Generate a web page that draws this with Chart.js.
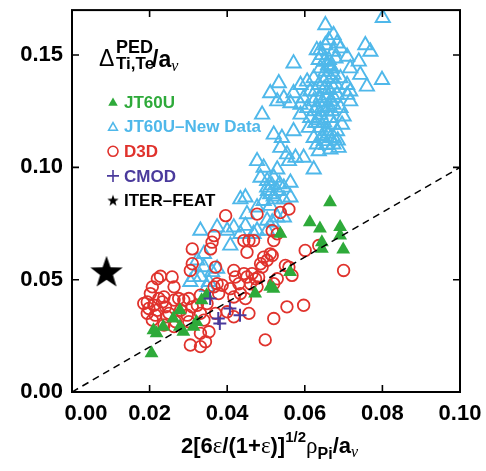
<!DOCTYPE html>
<html>
<head>
<meta charset="utf-8">
<script src="https://cdn.jsdelivr.net/npm/chart.js@4.4.1/dist/chart.umd.min.js"></script>
<style>
  html, body { margin: 0; padding: 0; background: #fff; }
  canvas { display: block; }
</style>
</head>
<body>
<canvas id="grafico" width="486" height="471"></canvas>
<script>
// ---- datos: [x, y] ----
const jt60u = [
  [0.0205,0.0172],[0.0218,0.0261],[0.0210,0.0275],[0.0235,0.0290],[0.0261,0.0327],
  [0.0278,0.0364],[0.0278,0.0290],[0.0287,0.0268],[0.0313,0.0290],[0.0321,0.0312],
  [0.0334,0.0408],[0.0347,0.0431],[0.0472,0.0438],[0.0519,0.0460],[0.0511,0.0468],
  [0.0562,0.0534],[0.0537,0.0704],[0.0613,0.0756],[0.0639,0.0728],[0.0644,0.0667],
  [0.0644,0.0638],[0.0665,0.0845],[0.0691,0.0734],[0.0691,0.0697],[0.0699,0.0634]
];

const jt60uNuevos = [
  [0.0801,0.1665],[0.0653,0.1633],[0.0674,0.1589],[0.0662,0.1566],[0.0653,0.1544],
  [0.0640,0.1522],[0.0683,0.1552],[0.0692,0.1530],[0.0674,0.1515],[0.0709,0.1493],
  [0.0756,0.1544],[0.0769,0.1515],[0.0739,0.1471],[0.0717,0.1441],[0.0743,0.1412],
  [0.0760,0.1360],[0.0799,0.1389],[0.0571,0.1463],[0.0533,0.1375],[0.0511,0.1330],
  [0.0529,0.1294],[0.0546,0.1308],[0.0563,0.1286],[0.0589,0.1279],[0.0571,0.1330],
  [0.0589,0.1367],[0.0606,0.1382],[0.0623,0.1397],[0.0636,0.1367],[0.0649,0.1382],
  [0.0674,0.1412],[0.0692,0.1397],[0.0709,0.1367],[0.0717,0.1338],[0.0683,0.1323],
  [0.0666,0.1294],[0.0640,0.1308],[0.0623,0.1294],[0.0606,0.1264],[0.0589,0.1235],
  [0.0614,0.1220],[0.0627,0.1198],[0.0640,0.1235],[0.0657,0.1249],[0.0674,0.1279],
  [0.0692,0.1264],[0.0700,0.1227],[0.0696,0.1190],[0.0683,0.1161],[0.0666,0.1131],
  [0.0657,0.1161],[0.0674,0.1102],[0.0649,0.1117],[0.0631,0.1102],[0.0623,0.1131],
  [0.0636,0.1072],[0.0687,0.1087],[0.0666,0.1080],[0.0490,0.1235],[0.0520,0.1146],
  [0.0541,0.1131],[0.0571,0.1161],[0.0537,0.1087],[0.0554,0.1058],[0.0576,0.1043],
  [0.0559,0.1028],[0.0597,0.1043],[0.0623,0.0991],[0.0477,0.1028],[0.0494,0.0999],
  [0.0529,0.0991],[0.0520,0.0954],[0.0503,0.0940],[0.0486,0.0954],[0.0503,0.0910],
  [0.0511,0.0881],[0.0529,0.0895],[0.0546,0.0910],[0.0563,0.0932],[0.0524,0.0858],
  [0.0546,0.0858],[0.0563,0.0866],[0.0494,0.0851],[0.0447,0.0866],[0.0434,0.0858],
  [0.0477,0.0822],[0.0451,0.0792],[0.0511,0.0829],[0.0529,0.0777],[0.0503,0.0763],
  [0.0417,0.0733],[0.0400,0.0718],[0.0374,0.0733],[0.0331,0.0718],[0.0434,0.0704],
  [0.0477,0.0718],[0.0503,0.0718],[0.0408,0.0652],[0.0340,0.0615],[0.0323,0.0586],
  [0.0340,0.0556],[0.0314,0.0512],[0.0305,0.0490],[0.0331,0.0512],[0.0361,0.0534],
  [0.0374,0.0549],[0.0353,0.0490],[0.0348,0.0468],[0.0447,0.0740],[0.0468,0.0704],
  [0.0516,0.0755],[0.0546,0.0777],[0.0631,0.1522],[0.0644,0.1500],[0.0636,0.1478],
  [0.0662,0.1478],[0.0640,0.1441],[0.0666,0.1448],[0.0679,0.1485],[0.0653,0.1426],
  [0.0627,0.1338],[0.0614,0.1338],[0.0597,0.1308],[0.0674,0.1353],[0.0662,0.1345],
  [0.0644,0.1264],[0.0631,0.1264],[0.0709,0.1323],[0.0717,0.1294],[0.0666,0.1220],
  [0.0610,0.1176],[0.0640,0.1176],[0.0674,0.1190],[0.0650,0.1470],[0.0660,0.1455],
  [0.0670,0.1440],[0.0655,0.1400],[0.0668,0.1395],[0.0680,0.1370],[0.0650,0.1350],
  [0.0660,0.1320],[0.0675,0.1310],[0.0645,0.1290],[0.0658,0.1270],[0.0670,0.1250],
  [0.0625,0.1250],[0.0635,0.1210],[0.0650,0.1200],[0.0660,0.1150],[0.0645,0.1140],
  [0.0675,0.1130],[0.0655,0.1100],[0.0685,0.1120],[0.0515,0.0920],[0.0505,0.0895],
  [0.0535,0.0925],[0.0520,0.0870]
];

const d3d = [
  [0.0194,0.0401],[0.0202,0.0438],[0.0207,0.0468],[0.0220,0.0504],[0.0228,0.0515],
  [0.0211,0.0386],[0.0194,0.0350],[0.0207,0.0320],[0.0220,0.0364],[0.0233,0.0401],
  [0.0241,0.0379],[0.0245,0.0335],[0.0224,0.0416],[0.0237,0.0423],[0.0258,0.0512],
  [0.0263,0.0468],[0.0198,0.0372],[0.0215,0.0342],[0.0185,0.0394],[0.0250,0.0350],
  [0.0263,0.0409],[0.0275,0.0416],[0.0288,0.0409],[0.0301,0.0416],[0.0310,0.0379],
  [0.0280,0.0364],[0.0297,0.0342],[0.0267,0.0313],[0.0237,0.0298],[0.0263,0.0291],
  [0.0301,0.0313],[0.0323,0.0386],[0.0331,0.0350],[0.0340,0.0320],[0.0305,0.0209],
  [0.0331,0.0202],[0.0344,0.0224],[0.0353,0.0268],[0.0331,0.0261],[0.0305,0.0541],
  [0.0310,0.0571],[0.0310,0.0637],[0.0357,0.0637],[0.0366,0.0696],[0.0361,0.0667],
  [0.0396,0.0785],[0.0370,0.0556],[0.0374,0.0482],[0.0378,0.0438],[0.0387,0.0475],
  [0.0408,0.0460],[0.0417,0.0541],[0.0421,0.0512],[0.0430,0.0482],[0.0434,0.0438],
  [0.0417,0.0423],[0.0447,0.0416],[0.0456,0.0350],[0.0443,0.0527],[0.0451,0.0512],
  [0.0464,0.0527],[0.0473,0.0504],[0.0481,0.0512],[0.0486,0.0571],[0.0494,0.0600],
  [0.0490,0.0556],[0.0503,0.0586],[0.0511,0.0615],[0.0443,0.0674],[0.0456,0.0674],
  [0.0468,0.0674],[0.0451,0.0622],[0.0477,0.0792],[0.0516,0.0718],[0.0520,0.0674],
  [0.0529,0.0704],[0.0537,0.0799],[0.0559,0.0814],[0.0516,0.0608],[0.0529,0.0504],
  [0.0520,0.0482],[0.0550,0.0563],[0.0559,0.0556],[0.0567,0.0519],[0.0554,0.0379],
  [0.0597,0.0386],[0.0520,0.0327],[0.0498,0.0232],[0.0601,0.0630],[0.0636,0.0652],
  [0.0700,0.0541],[0.0460,0.0482],[0.0477,0.0468],[0.0417,0.0335],[0.0400,0.0357],
  [0.0370,0.0350],[0.0366,0.0468],[0.0348,0.0394],[0.0331,0.0431]
];

const cmod = [
  [0.0356,0.0416],[0.0377,0.0327],[0.0381,0.0305],[0.0407,0.0372],[0.0433,0.0342]
];

const iterFeat = [[0.0089,0.0534]];

const lineaX = [0, 0.1];
const lineaY = [0, 0.1];

const xTicks = [0, 0.02, 0.04, 0.06, 0.08, 0.10];
const xTickLabels = ['0.00', '0.02', '0.04', '0.06', '0.08', '0.10'];
const yTicks = [0, 0.05, 0.10, 0.15];
const yTickLabels = ['0.00', '0.05', '0.10', '0.15'];

const nombres = ['JT60U', 'JT60U\u2013New Data', 'D3D', 'CMOD', 'ITER\u2013FEAT'];

// ---- estilos ----
const verde = '#2eaa3a';
const celeste = '#4fb8ea';
const rojo = '#e0322c';
const morado = '#4a3a9c';
const fuente = '"Liberation Sans", Arial, sans-serif';

function aPuntos(lista) {
  return lista.map(p => ({ x: p[0], y: p[1] }));
}

function hacerEstrella(r) {
  const c = document.createElement('canvas');
  const s = Math.ceil(r * 2 + 2);
  c.width = s;
  c.height = s;
  const g = c.getContext('2d');
  g.beginPath();
  for (let i = 0; i < 10; i++) {
    const rr = i % 2 ? r * 0.4 : r;
    const a = -Math.PI / 2 + i * Math.PI / 5;
    g.lineTo(s / 2 + rr * Math.cos(a), s / 2 + rr * Math.sin(a) + r * 0.05);
  }
  g.closePath();
  g.fillStyle = '#000';
  g.fill();
  return c;
}

const estrellaGrande = hacerEstrella(17);
const estrellaChica = hacerEstrella(6);

function marcador(ctx, tipo, x, y) {
  ctx.save();
  ctx.lineWidth = 1.6;
  ctx.beginPath();
  if (tipo === 'trianguloLleno' || tipo === 'trianguloVacio') {
    const r = tipo === 'trianguloLleno' ? 5.5 : 5;
    for (let i = 0; i < 3; i++) {
      const a = -Math.PI / 2 + i * 2 * Math.PI / 3;
      ctx.lineTo(x + r * Math.cos(a), y + 1 + r * Math.sin(a));
    }
    ctx.closePath();
    if (tipo === 'trianguloLleno') { ctx.fillStyle = verde; ctx.fill(); }
    else { ctx.strokeStyle = celeste; ctx.stroke(); }
  } else if (tipo === 'circulo') {
    ctx.arc(x, y, 5, 0, Math.PI * 2);
    ctx.strokeStyle = rojo;
    ctx.stroke();
  } else if (tipo === 'cruz') {
    ctx.moveTo(x - 6, y); ctx.lineTo(x + 6, y);
    ctx.moveTo(x, y - 6); ctx.lineTo(x, y + 6);
    ctx.strokeStyle = morado;
    ctx.stroke();
  } else {
    ctx.drawImage(estrellaChica, x - estrellaChica.width / 2, y - estrellaChica.height / 2);
  }
  ctx.restore();
}

function texto(ctx, s, x, y, font, dibujar) {
  ctx.font = font;
  if (dibujar) ctx.fillText(s, x, y);
  return x + ctx.measureText(s).width;
}

const decoracion = {
  id: 'decoracion',
  afterDraw(chart) {
    const { ctx, chartArea: a, scales: { x, y } } = chart;
    ctx.save();

    // marco y marcas hacia adentro
    ctx.strokeStyle = '#000';
    ctx.lineWidth = 2;
    ctx.strokeRect(a.left, a.top, a.right - a.left, a.bottom - a.top);
    ctx.lineWidth = 1.6;
    ctx.beginPath();
    xTicks.slice(1, -1).forEach(v => {
      const px = x.getPixelForValue(v);
      ctx.moveTo(px, a.bottom); ctx.lineTo(px, a.bottom - 7);
      ctx.moveTo(px, a.top); ctx.lineTo(px, a.top + 7);
    });
    yTicks.slice(1).forEach(v => {
      const py = y.getPixelForValue(v);
      ctx.moveTo(a.left, py); ctx.lineTo(a.left + 7, py);
      ctx.moveTo(a.right, py); ctx.lineTo(a.right - 7, py);
    });
    ctx.stroke();

    // etiquetas del eje x
    ctx.fillStyle = '#000';
    ctx.font = 'bold 22px ' + fuente;
    ctx.textAlign = 'center';
    ctx.textBaseline = 'alphabetic';
    xTicks.forEach((v, i) => {
      let px = x.getPixelForValue(v);
      if (i === 0) px += 14;
      ctx.fillText(xTickLabels[i], px, a.bottom + 28);
    });

    // titulo del eje x
    ctx.textAlign = 'left';
    const negrita = 'bold 22px ' + fuente;
    const griega = '23px "Liberation Serif", serif';
    const partes = [
      ['2[6', negrita, 0], ['\u03b5', griega, 0], ['/(1+', negrita, 0], ['\u03b5', griega, 0],
      [')]', negrita, 0], ['1/2', 'bold 15px ' + fuente, -11], ['\u03c1', griega, 0],
      ['Pi', 'bold 16px ' + fuente, 6], ['/a', negrita, 0], ['\u03bd', 'italic 16px "Liberation Serif", serif', 4]
    ];
    let ancho = 0;
    partes.forEach(p => { ancho = texto(ctx, p[0], ancho, 0, p[1], false); });
    let cx = 269.5 - ancho / 2;
    const base = a.bottom + 61;
    partes.forEach(p => { cx = texto(ctx, p[0], cx, base + p[2], p[1], true); });

    // titulo del eje y (dentro del grafico)
    let tx = a.left + 27;
    const tb = a.top + 56;
    texto(ctx, '\u0394', tx, tb, '23px "Liberation Sans", Arial, sans-serif', true);
    tx += 17;
    texto(ctx, 'PED', tx, tb - 13, 'bold 18px ' + fuente, true);
    let fin = texto(ctx, 'Ti,Te', tx, tb + 3, 'bold 17px ' + fuente, true);
    fin = texto(ctx, '/a', fin - 2, tb + 1, 'bold 23px ' + fuente, true);
    texto(ctx, '\u03bd', fin, tb + 5, 'italic 16px "Liberation Serif", serif', true);

    // leyenda
    const tipos = ['trianguloLleno', 'trianguloVacio', 'circulo', 'cruz', 'estrella'];
    const colores = [verde, celeste, rojo, morado, '#000'];
    ctx.textBaseline = 'middle';
    ctx.font = 'bold 17px ' + fuente;
    nombres.forEach((n, i) => {
      const ly = a.top + 92 + i * 24.6;
      marcador(ctx, tipos[i], a.left + 41, ly);
      ctx.fillStyle = colores[i];
      ctx.fillText(n, a.left + 52, ly + 1);
    });

    ctx.restore();
  }
};

const ctx = document.getElementById('grafico').getContext('2d');

new Chart(ctx, {
  type: 'scatter',
  data: {
    datasets: [
      {
        label: 'linea',
        type: 'line',
        data: lineaX.map((v, i) => ({ x: v, y: lineaY[i] })),
        borderColor: '#000',
        borderWidth: 1.5,
        borderDash: [7, 5],
        pointRadius: 0,
        fill: false
      },
      {
        label: nombres[4],
        data: aPuntos(iterFeat),
        pointStyle: estrellaGrande
      },
      {
        label: nombres[3],
        data: aPuntos(cmod),
        pointStyle: 'cross',
        pointRadius: 6.5,
        borderColor: morado,
        borderWidth: 2
      },
      {
        label: nombres[0],
        data: aPuntos(jt60u),
        pointStyle: 'triangle',
        pointRadius: 8,
        backgroundColor: verde,
        borderColor: verde,
        borderWidth: 0
      },
      {
        label: nombres[2],
        data: aPuntos(d3d),
        pointStyle: 'circle',
        pointRadius: 5.8,
        backgroundColor: 'rgba(0,0,0,0)',
        borderColor: rojo,
        borderWidth: 1.8
      },
      {
        label: nombres[1],
        data: aPuntos(jt60uNuevos),
        pointStyle: 'triangle',
        pointRadius: 8.2,
        backgroundColor: 'rgba(0,0,0,0)',
        borderColor: celeste,
        borderWidth: 1.9
      }
    ]
  },
  options: {
    responsive: false,
    animation: false,
    layout: { padding: { top: 9, right: 26, left: 0, bottom: 0 } },
    plugins: {
      legend: { display: false },
      tooltip: { enabled: false }
    },
    scales: {
      x: {
        type: 'linear',
        min: 0,
        max: 0.1,
        ticks: { display: false },
        grid: { display: false, drawTicks: false },
        border: { display: false },
        afterBuildTicks(s) { s.ticks = xTicks.map(v => ({ value: v })); },
        afterFit(s) { s.height = 79; s.paddingLeft = 0; s.paddingRight = 0; }
      },
      y: {
        type: 'linear',
        min: 0,
        max: 0.17,
        ticks: {
          padding: 9,
          color: '#000',
          font: { family: fuente, size: 22, weight: 'bold' },
          callback: (v, i) => yTickLabels[i]
        },
        grid: { display: false, drawTicks: false },
        border: { display: false },
        afterBuildTicks(s) { s.ticks = yTicks.map(v => ({ value: v })); },
        afterFit(s) { s.width = 72; s.paddingTop = 0; s.paddingBottom = 0; }
      }
    }
  },
  plugins: [decoracion]
});
</script>
</body>
</html>
